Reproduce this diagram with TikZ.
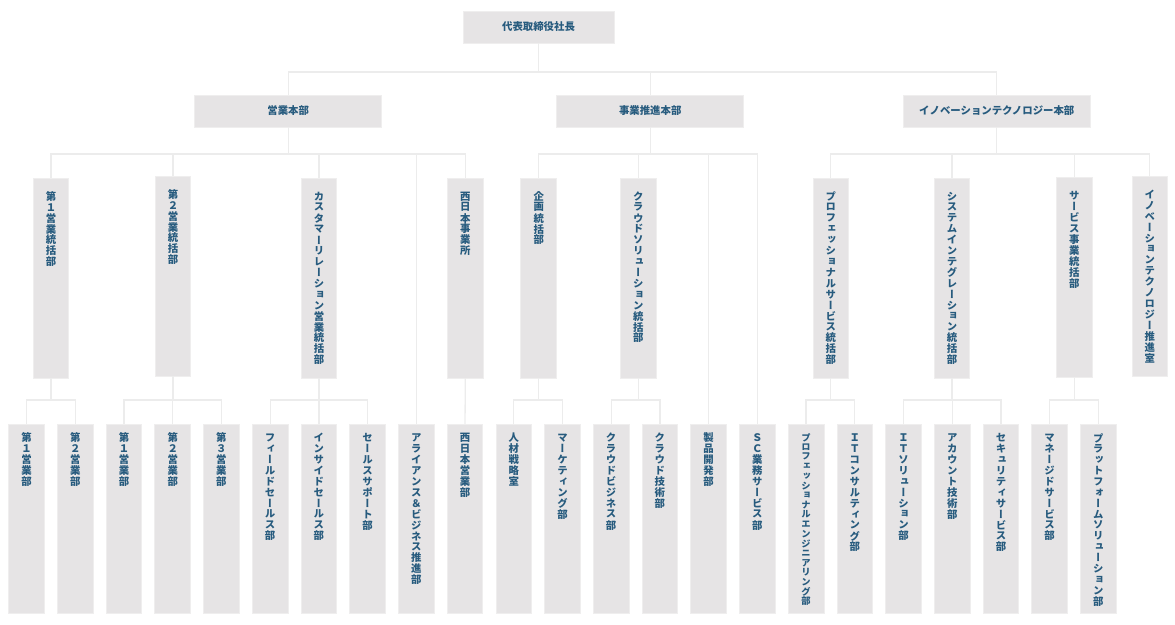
\documentclass[tikz,border=0pt]{standalone}
\usepackage{fontspec}
\newfontfamily\jph{Noto Sans CJK JP}
\newfontfamily\jpv{Noto Sans CJK JP}[RawFeature=+vert]
\definecolor{boxfill}{HTML}{E6E4E5}
\definecolor{boxline}{HTML}{EFEEEE}
\definecolor{conncol}{HTML}{ECECEC}
\definecolor{txt}{HTML}{275B7E}
\ExplSyntaxOn
\NewDocumentCommand\vstack{mm}{
  \vbox:n {
    \offinterlineskip
    \tl_map_inline:nn {#2} {
      \hbox_to_wd:nn {14pt} { \hss \vbox_to_ht:nn {#1pt} { \vss \hbox:n {##1} \vss } \hss }
    }
  }
}
\ExplSyntaxOff
% height, top skip, font size, pitch, text
\newcommand\vcol[5]{\vbox to #1pt{\vskip #2pt\hbox to 35.7pt{\hss\jpv\bfseries\fontsize{#3}{#3}\selectfont\vstack{#4}{#5}\hss}\vss}}
\newcommand\lthree[1]{\vcol{199.7}{12.6}{10.4}{10.9}{#1}}
\newcommand\lfour[1]{\vcol{189}{8.2}{10.4}{10.9}{#1}}
\tikzset{
  orgbox/.style={fill=boxfill, draw=boxline, line width=0.8pt, inner sep=0pt, text=txt,
    font=\jph\bfseries\fontsize{10.4}{12}\selectfont},
  hqbox/.style={orgbox, minimum width=187pt, minimum height=32pt},
  colbox/.style={orgbox, minimum width=35.7pt},
  conn/.style={draw=conncol, line width=1.3pt},
}
\begin{document}
\begin{tikzpicture}[x=1pt,y=-1pt]
\useasboundingbox (0,0) rectangle (1175,624);
\coordinate (busA) at (0,72);
\coordinate (busB) at (0,154);
\coordinate (busC) at (0,400);

% level 1 and 2
\node[orgbox, minimum width=151pt, minimum height=32pt] (ceo) at (538.5,27) {代表取締役社長};
\node[hqbox] (hq1) at (288.2,111) {営業本部};
\node[hqbox] (hq2) at (650.2,111) {事業推進本部};
\node[hqbox] (hq3) at (996.8,111) {イノベーションテクノロジー本部};

% level 3
\node[colbox] (s1) at (51,278.15) {\lthree{第１営業統括部}};
\node[colbox] (s2) at (173,276.15) {\lthree{第２営業統括部}};
\node[colbox] (s3) at (319,278.15) {\lthree{カスタマーリレーション営業統括部}};
\node[colbox] (s4) at (465.3,278.15) {\lthree{西日本事業所}};
\node[colbox] (p1) at (538.7,278.15) {\lthree{企画統括部}};
\node[colbox] (p2) at (638.2,278.15) {\lthree{クラウドソリューション統括部}};
\node[colbox] (i1) at (830.8,278.15) {\lthree{プロフェッショナルサービス統括部}};
\node[colbox] (i2) at (952,278.15) {\lthree{システムインテグレーション統括部}};
\node[colbox] (i3) at (1074.2,277.7) {\lthree{サービス事業統括部}};
\node[colbox] (i4) at (1149.8,276.5) {\lthree{イノベーションテクノロジー推進室}};

% level 4
\node[colbox] (u1) at (26.55,518.8) {\lfour{第１営業部}};
\node[colbox] (u2) at (75.27,518.8) {\lfour{第２営業部}};
\node[colbox] (u3) at (123.99,518.8) {\lfour{第１営業部}};
\node[colbox] (u4) at (172.71,518.8) {\lfour{第２営業部}};
\node[colbox] (u5) at (221.43,518.8) {\lfour{第３営業部}};
\node[colbox] (u6) at (270.15,518.8) {\lfour{フィールドセールス部}};
\node[colbox] (u7) at (318.87,518.8) {\lfour{インサイドセールス部}};
\node[colbox] (u8) at (367.59,518.8) {\lfour{セールスサポート部}};
\node[colbox] (u9) at (416.31,518.8) {\lfour{アライアンス＆ビジネス推進部}};
\node[colbox] (u10) at (465.03,518.8) {\lfour{西日本営業部}};
\node[colbox] (u11) at (513.75,518.8) {\lfour{人材戦略室}};
\node[colbox] (u12) at (562.47,518.8) {\lfour{マーケティング部}};
\node[colbox] (u13) at (611.19,518.8) {\lfour{クラウドビジネス部}};
\node[colbox] (u14) at (659.91,518.8) {\lfour{クラウド技術部}};
\node[colbox] (u15) at (708.63,518.8) {\lfour{製品開発部}};
\node[colbox] (u16) at (757.35,518.8) {\lfour{ＳＣ業務サービス部}};
\node[colbox] (u17) at (806.07,518.8) {\vcol{189}{8.2}{9.3}{9.65}{プロフェッショナルエンジニアリング部}};
\node[colbox] (u18) at (854.79,518.8) {\lfour{ＩＴコンサルティング部}};
\node[colbox] (u19) at (903.51,518.8) {\lfour{ＩＴソリューション部}};
\node[colbox] (u20) at (952.23,518.8) {\lfour{アカウント技術部}};
\node[colbox] (u21) at (1000.95,518.8) {\lfour{セキュリティサービス部}};
\node[colbox] (u22) at (1049.67,518.8) {\lfour{マネージドサービス部}};
\node[colbox] (u23) at (1098.39,518.8) {\lfour{プラットフォームソリューション部}};

% connectors: level 1 -> 2
\draw[conn] (ceo.south) -- (ceo.south |- busA);
\draw[conn] (hq1.north) -- (hq1.north |- busA) -- (hq3.north |- busA) -- (hq3.north);
\draw[conn] (hq2.north) -- (hq2.north |- busA);

% level 2 -> 3
\draw[conn] (hq1.south) -- (hq1.south |- busB);
\draw[conn] (s1.north) -- (s1.north |- busB) -- (s4.north |- busB) -- (s4.north);
\draw[conn] (s2.north) -- (s2.north |- busB);
\draw[conn] (s3.north) -- (s3.north |- busB);
\draw[conn] (u9.north) -- (u9.north |- busB);

\draw[conn] (hq2.south) -- (hq2.south |- busB);
\draw[conn] (p1.north) -- (p1.north |- busB) -- (u16.north |- busB) -- (u16.north);
\draw[conn] (p2.north) -- (p2.north |- busB);
\draw[conn] (u15.north) -- (u15.north |- busB);

\draw[conn] (hq3.south) -- (hq3.south |- busB);
\draw[conn] (i1.north) -- (i1.north |- busB) -- (i4.north |- busB) -- (i4.north);
\draw[conn] (i2.north) -- (i2.north |- busB);
\draw[conn] (i3.north) -- (i3.north |- busB);

% level 3 -> 4
\draw[conn] (s1.south) -- (s1.south |- busC);
\draw[conn] (u1.north) -- (u1.north |- busC) -- (u2.north |- busC) -- (u2.north);
\draw[conn] (s2.south) -- (s2.south |- busC);
\draw[conn] (u3.north) -- (u3.north |- busC) -- (u5.north |- busC) -- (u5.north);
\draw[conn] (u4.north) -- (u4.north |- busC);
\draw[conn] (s3.south) -- (s3.south |- busC);
\draw[conn] (u6.north) -- (u6.north |- busC) -- (u8.north |- busC) -- (u8.north);
\draw[conn] (u7.north) -- (u7.north |- busC);
\draw[conn] (s4.south) -- (u10.north);
\draw[conn] (p1.south) -- (p1.south |- busC);
\draw[conn] (u11.north) -- (u11.north |- busC) -- (u12.north |- busC) -- (u12.north);
\draw[conn] (p2.south) -- (p2.south |- busC);
\draw[conn] (u13.north) -- (u13.north |- busC) -- (u14.north |- busC) -- (u14.north);
\draw[conn] (i1.south) -- (i1.south |- busC);
\draw[conn] (u17.north) -- (u17.north |- busC) -- (u18.north |- busC) -- (u18.north);
\draw[conn] (i2.south) -- (i2.south |- busC);
\draw[conn] (u19.north) -- (u19.north |- busC) -- (u21.north |- busC) -- (u21.north);
\draw[conn] (u20.north) -- (u20.north |- busC);
\draw[conn] (i3.south) -- (i3.south |- busC);
\draw[conn] (u22.north) -- (u22.north |- busC) -- (u23.north |- busC) -- (u23.north);
\end{tikzpicture}
\end{document}
